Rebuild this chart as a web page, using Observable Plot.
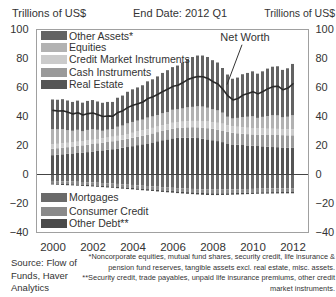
<!DOCTYPE html>
<html><head><meta charset="utf-8">
<script src="https://cdn.jsdelivr.net/npm/d3@7"></script>
<script src="https://cdn.jsdelivr.net/npm/@observablehq/plot@0.6"></script>
<style>
html,body{margin:0;padding:0;background:#fff;}
#wrap{position:relative;width:336px;height:297px;overflow:hidden;background:#fff;font-family:'Liberation Sans Narrow','Arial Narrow','Liberation Sans',Arial,sans-serif;color:#333;}
.t{position:absolute;white-space:nowrap;line-height:1;}
.sw{position:absolute;width:26px;height:9px;}
#chart{position:absolute;left:0;top:0;}
</style></head><body>
<div id="wrap"><div id="chart"></div></div>
<script>
const FONT = "'Liberation Sans Narrow','Arial Narrow','Liberation Sans',Arial,sans-serif";
const years = [2000,2001,2002,2003,2004,2005,2006,2007,2008,2009,2010,2011,2012];
const quarters = years.flatMap(y => ["Q1","Q2","Q3","Q4"].map(q => y + q)).slice(0, 49);
const xTicks = ["2000Q1","2002Q1","2004Q1","2006Q1","2008Q1","2010Q1","2012Q1"];
const yTicks = [-40,-20,0,20,40,60,80,100];

// Assets (trillions of US$), quarterly 2000Q1 - 2012Q1
const realEstate = [13.0,13.3,13.6,13.9, 14.2,14.5,14.8,15.1, 15.5,15.9,16.3,16.7, 17.1,17.6,18.1,18.6, 19.2,19.9,20.5,21.1, 21.8,22.6,23.3,23.9, 24.6,24.9,25.1,25.1, 25.0,24.8,24.4,23.9, 23.3,22.7,22.0,21.1, 20.4,20.2,20.0,19.7, 19.5,19.3,19.1,18.8, 18.6,18.5,18.3,18.1, 18.0];
const cashInstruments = [4.4,4.5,4.5,4.6, 4.8,4.9,5.0,5.1, 5.2,5.3,5.3,5.4, 5.5,5.6,5.6,5.7, 5.8,5.9,6.0,6.1, 6.2,6.3,6.4,6.5, 6.7,6.8,6.9,7.1, 7.3,7.4,7.6,7.7, 7.9,7.9,8.0,8.0, 8.0,7.9,7.8,7.8, 7.8,7.9,8.0,8.1, 8.3,8.4,8.5,8.6, 8.7];
const creditMarket = [3.0,3.0,3.0,3.0, 3.0,2.9,2.9,2.9, 2.9,2.9,3.0,3.0, 3.1,3.1,3.2,3.3, 3.4,3.5,3.6,3.7, 3.8,3.8,3.9,3.9, 4.0,4.1,4.1,4.2, 4.3,4.4,4.5,4.6, 4.6,4.7,4.7,4.6, 4.6,4.5,4.4,4.4, 4.4,4.3,4.3,4.3, 4.3,4.2,4.2,4.2, 4.2];
const equities = [10.5,10.0,9.8,8.8, 7.8,8.2,6.8,7.3, 7.3,6.4,5.2,5.5, 5.3,6.3,6.5,7.3, 7.5,7.5,7.4,8.0, 7.9,8.0,8.3,8.4, 9.0,8.8,9.1,9.6, 9.7,10.1,10.0,9.5, 8.8,8.6,7.6,5.8, 5.3,6.1,7.1,7.6, 8.1,7.2,8.0,8.8, 9.3,9.3,8.1,8.6, 9.6];
const otherAssets = [20.5,20.4,20.7,20.4, 19.9,20.1,19.7,20.0, 20.1,19.5,19.3,19.1, 18.7,20.0,20.7,21.8, 22.5,22.9,23.7,25.0, 25.6,26.6,27.8,28.9, 29.4,30.2,31.6,33.3, 34.4,35.0,35.2,35.0, 33.9,33.0,30.8,29.1, 27.4,27.8,29.5,30.2, 31.0,30.5,31.4,32.7, 33.5,33.9,32.7,33.4, 35.4];
// Liabilities (trillions of US$), drawn below zero
const mortgages = [4.80,4.92,5.03,5.13, 5.24,5.38,5.52,5.67, 5.83,6.03,6.24,6.44, 6.62,6.86,7.14,7.36, 7.56,7.83,8.07,8.27, 8.49,8.78,9.06,9.30, 9.52,9.77,9.96,10.14, 10.30,10.47,10.62,10.72, 10.78,10.79,10.75,10.70, 10.62,10.55,10.46,10.37, 10.28,10.17,10.10,10.03, 9.96,9.90,9.85,9.80, 9.76];
const consumerCredit = [1.68,1.72,1.77,1.81, 1.83,1.85,1.87,1.89, 1.91,1.93,1.95,1.97, 1.98,2.01,2.04,2.07, 2.08,2.10,2.13,2.17, 2.18,2.20,2.22,2.23, 2.25,2.28,2.32,2.36, 2.39,2.42,2.47,2.52, 2.54,2.57,2.59,2.61, 2.58,2.56,2.53,2.51, 2.49,2.48,2.49,2.51, 2.53,2.56,2.58,2.62, 2.64];
const otherDebt = [0.75,0.76,0.78,0.80, 0.78,0.80,0.82,0.84, 0.85,0.86,0.87,0.88, 0.90,0.92,0.93,0.95, 0.96,0.98,1.00,1.02, 1.03,1.05,1.07,1.08, 1.10,1.12,1.14,1.16, 1.18,1.20,1.22,1.24, 1.20,1.16,1.12,1.08, 1.05,1.03,1.01,1.00, 0.98,0.97,0.96,0.95, 0.94,0.93,0.92,0.92, 0.91];
// Net worth line
const netWorth = [44.2,43.8,44.0,43.0, 41.8,42.6,41.0,42.0, 42.4,41.2,40.0,40.4, 40.2,42.8,44.0,46.3, 47.8,48.8,50.0,52.4, 53.6,55.3,57.3,59.0, 60.8,61.6,63.4,65.6, 66.8,67.6,67.4,66.2, 64.0,62.4,58.6,54.2, 51.4,52.4,54.8,55.8, 57.0,55.6,57.2,59.2, 60.6,60.9,58.4,59.6, 62.6];

const assetNames = ["Real Estate","Cash Instruments","Credit Market Instruments","Equities","Other Assets*"];
const debtNames = ["Mortgages","Consumer Credit","Other Debt**"];
const seriesColors = {
  "Real Estate":"#555555","Cash Instruments":"#9a9a9a","Credit Market Instruments":"#cbcbcb",
  "Equities":"#b2b2b2","Other Assets*":"#636363",
  "Mortgages":"#6a6a6a","Consumer Credit":"#8a8a8a","Other Debt**":"#4a4a4a"
};
const upperLegend = ["Other Assets*","Equities","Credit Market Instruments","Cash Instruments","Real Estate"];
const lowerLegend = ["Mortgages","Consumer Credit","Other Debt**"];
const headerLeft = "Trillions of US$";
const headerMid = "End Date: 2012 Q1";
const headerRight = "Trillions of US$";
const sourceLines = ["Source: Flow of","Funds, Haver","Analytics"];
const noteLines = ["*Noncorporate equities, mutual fund shares, security credit, life insurance &",
  "pension fund reserves, tangible assets excl. real estate, misc. assets.",
  "**Security credit, trade payables, unpaid life insurance premiums, other credit",
  "market instruments."];
const netLabel = {text:"Net Worth", labelQ:"2009Q3", labelV:94.5, fromQ:"2009Q2", fromV:89.5, toQ:"2008Q3", toV:62};

const assetArrays = [realEstate, cashInstruments, creditMarket, equities, otherAssets];
const debtArrays = [mortgages, consumerCredit, otherDebt];
const order = [...assetNames, ...debtNames];
const tidy = [];
quarters.forEach((q, i) => {
  assetNames.forEach((s, k) => tidy.push({q, series:s, value: assetArrays[k][i]}));
  debtNames.forEach((s, k) => tidy.push({q, series:s, value: -debtArrays[k][i]}));
});
const nw = quarters.map((q, i) => ({q, v: netWorth[i]}));

const chart = Plot.plot({
  width: 336, height: 254,
  marginLeft: 36, marginRight: 28, marginTop: 29, marginBottom: 22,
  style: {fontFamily: FONT, fontSize: "11px", color: "#333", background: "transparent"},
  x: {type: "band", domain: quarters, paddingInner: 0.42, paddingOuter: 0.3, axis: null},
  y: {domain: [-40, 100], axis: null},
  color: {domain: order, range: order.map(s => seriesColors[s])},
  marks: [
    Plot.barY(tidy, {x: "q", y: "value", fill: "series", order: order}),
    Plot.ruleY([0], {stroke: "#444", strokeWidth: 1}),
    Plot.line(nw, {x: "q", y: "v", stroke: "#2a2a2a", strokeWidth: 1.6}),
    Plot.link([netLabel], {x1: "fromQ", y1: "fromV", x2: "toQ", y2: "toV", dx: 4, stroke: "#333", strokeWidth: 1}),
    Plot.text([netLabel], {x: "labelQ", y: "labelV", text: "text", dx: 2, fontSize: 11, fill: "#333"}),
    Plot.frame({stroke: "#a0a0a0"}),
    Plot.axisY({anchor: "left", ticks: yTicks, tickSize: 0, tickPadding: 8, fontSize: 11}),
    Plot.axisY({anchor: "right", ticks: yTicks, tickSize: 0, tickPadding: 7, fontSize: 11}),
    Plot.axisX({ticks: xTicks, tickFormat: d => d.slice(0, 4), tickSize: 0, tickPadding: 10, fontSize: 11.5})
  ]
});
const wrap = document.getElementById("wrap");
document.getElementById("chart").appendChild(chart);

function addText(txt, left, cy, size, extra) {
  const d = document.createElement("div");
  d.className = "t";
  d.textContent = txt;
  d.style.fontSize = size + "px";
  d.style.left = left + "px";
  d.style.top = (cy - size / 2) + "px";
  if (extra) Object.assign(d.style, extra);
  wrap.appendChild(d);
  return d;
}
addText(headerLeft, 12, 13, 11);
addText(headerMid, 133, 13, 11);
const hr = addText(headerRight, 0, 13, 10.5);
hr.style.left = "auto";
hr.style.right = "1px";

function legend(names, centers) {
  names.forEach((n, i) => {
    const s = document.createElement("div");
    s.className = "sw";
    s.style.left = "41px";
    s.style.top = (centers[i] - 4.5) + "px";
    s.style.background = seriesColors[n];
    wrap.appendChild(s);
    addText(n, 69, centers[i], 10.5);
  });
}
legend(upperLegend, [35.8, 47.5, 59.5, 72, 84.5]);
legend(lowerLegend, [197.5, 211, 223.5]);

sourceLines.forEach((l, i) => addText(l, 11, 263 + i * 12.5, 9.5));
noteLines.forEach((l, i) => {
  const d = addText(l, 0, 257 + i * 10.4, 7.4);
  d.style.left = "auto";
  d.style.right = "1px";
  d.style.textAlign = "right";
});
</script>
</body></html>
